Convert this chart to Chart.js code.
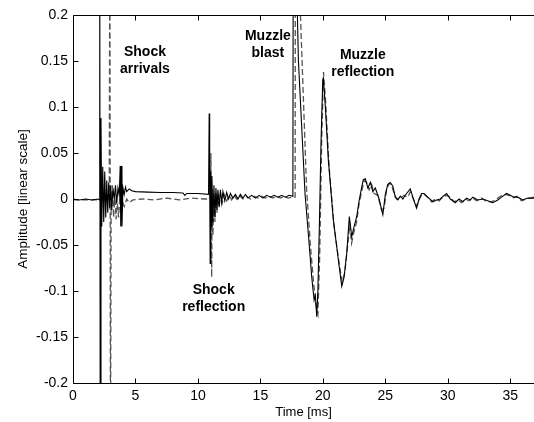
<!DOCTYPE html>
<html>
<head>
<meta charset="utf-8">
<script src="https://cdn.jsdelivr.net/npm/chart.js@4.4.0/dist/chart.umd.min.js"></script>
<style>
  body { margin: 0; background: #fff; }
  canvas { display: block; }
</style>
</head>
<body>
<canvas id="myChart" width="534" height="422"></canvas>
<script>
// mikrofon 1 (linia ciagla)
var solidTime = [0, 0.5, 1.0, 1.5, 2.0, 2.12, 2.14, 2.18, 2.24, 2.3, 2.38, 2.46, 2.54, 2.62, 2.7, 2.78, 2.86, 2.94, 3.02, 3.1, 3.2, 3.3, 3.4, 3.5, 3.6, 3.7, 3.78, 3.82, 3.88, 3.92, 4.0, 4.1, 4.2, 4.3, 4.5, 4.7, 5.0, 6.0, 7.0, 8.0, 8.8, 8.95, 9.1, 10.0, 10.85,
    10.9, 10.94, 10.98, 11.02, 11.06, 11.12, 11.2, 11.28, 11.36, 11.44, 11.52, 11.6, 11.7, 11.8, 11.9, 12.0, 12.15, 12.3, 12.45, 12.6, 12.8, 13.0, 13.2, 13.4, 13.6, 13.8, 14.0, 14.3, 14.6, 14.9, 15.2, 15.5, 15.8, 16.1, 16.4, 16.7, 17.0, 17.3, 17.6,
    17.63, 17.8, 18.04, 18.3, 18.57, 18.85, 19.11, 19.3, 19.4, 19.51, 19.6, 19.72, 19.85, 19.99, 20.04, 20.2, 20.44, 20.84, 21.24, 21.51, 21.7, 21.91, 22.12, 22.31, 22.5, 22.71, 22.9, 23.11, 23.24,
    23.4, 23.6, 23.8, 24.0, 24.2, 24.5, 24.8, 25.0, 25.2, 25.4, 25.6, 25.8, 26.0, 26.2, 26.4, 26.7, 27.0, 27.2, 27.5, 27.7, 27.9, 28.1, 28.4, 28.8, 29.1, 29.4, 29.7, 29.9, 30.2, 30.6, 30.9, 31.2, 31.5, 31.8, 32.0, 32.4, 32.8, 33.2, 33.6, 34.0, 34.3, 34.7, 35.0, 35.3, 35.6, 36.0, 36.4, 36.9];
var solidAmp = [0, -0.001, 0, -0.001, 0, -0.001, 0.3, -0.3, 0.088, -0.03, 0.035, -0.025, 0.03, -0.02, 0.02, -0.015, 0.018, -0.01, 0.015, -0.012, 0.012, 0.0, 0.015, -0.005, 0.012, 0.004, 0.036, -0.03, 0.036, -0.03, 0.012, 0.005, 0.013, 0.008, 0.011, 0.009, 0.008, 0.0075, 0.007, 0.007, 0.0065, 0.004, 0.006, 0.006, 0.005,
    0.093, 0.02, -0.07, 0.03, -0.03, 0.025, -0.025, 0.015, -0.02, 0.012, -0.012, 0.01, -0.008, 0.01, -0.004, 0.008, -0.002, 0.007, 0.0, 0.006, 0.001, 0.005, 0.0, 0.005, 0.001, 0.005, 0.001, 0.004, 0.001, 0.004, 0.001, 0.004, 0.002, 0.004, 0.002, 0.004, 0.002, 0.004, 0.003,
    0.3, 0.3, 0.151, 0.08, 0.006, -0.04, -0.085, -0.11, -0.105, -0.128, -0.1, -0.03, 0.06, 0.129, 0.131, 0.1, 0.042, -0.023, -0.066, -0.095, -0.085, -0.059, -0.019, -0.041, -0.03, -0.019, -0.002, 0.013, 0.021,
    0.022, 0.012, 0.018, 0.008, 0.012, 0.0, -0.017, 0.005, 0.016, 0.018, 0.014, 0.002, -0.001, 0.003, 0.0, 0.006, 0.011, 0.002, -0.01, 0.0, 0.006, 0.006, 0.002, -0.003, -0.001, 0.0, 0.004, 0.006, 0.0, -0.004, 0.0, -0.003, 0.001, -0.001, 0.002, -0.001, 0.0, -0.002, -0.004, -0.001, 0.002, 0.006, 0.004, 0.002, 0.002, -0.001, 0.001, 0.001];

// mikrofon 2 (linia przerywana)
var dashTime = [0, 1.0, 2.0, 2.9, 2.95, 3.0, 3.05, 3.15, 3.25, 3.35, 3.45, 3.55, 3.65, 3.75, 3.85, 3.95, 4.1, 4.3, 4.5, 4.8, 5.5, 6.5, 7.5, 8.5, 9.5, 10.5, 11.0,
    11.04, 11.1, 11.14, 11.2, 11.28, 11.36, 11.44, 11.52, 11.6, 11.7, 11.8, 11.95, 12.1, 12.3, 12.5, 12.7, 12.9, 13.1, 13.3, 13.6, 13.9, 14.2, 14.5, 14.8, 15.1, 15.4, 15.7, 16.0, 16.3, 16.6, 16.9, 17.2, 17.5, 17.78,
    17.8, 17.95, 18.3, 18.7, 19.0, 19.25, 19.45, 19.6, 19.75, 19.9, 20.05, 20.2, 20.5, 20.9, 21.3, 21.55, 21.75, 21.95, 22.15, 22.3, 22.5, 22.7, 22.9, 23.1, 23.3,
    23.5, 23.7, 23.9, 24.1, 24.4, 24.7, 24.9, 25.1, 25.3, 25.5, 25.7, 25.9, 26.2, 26.5, 26.8, 27.0, 27.3, 27.5, 27.8, 28.0, 28.3, 28.7, 29.0, 29.3, 29.6, 29.9, 30.2, 30.5, 30.8, 31.1, 31.4, 31.7, 32.0, 32.3, 32.7, 33.1, 33.5, 33.9, 34.2, 34.6, 34.9, 35.2, 35.5, 35.9, 36.3, 36.9];
var dashAmp = [-0.001, -0.001, -0.001, -0.001, 0.3, -0.3, -0.01, 0.015, -0.02, 0.005, -0.022, -0.005, -0.02, 0.002, -0.015, -0.002, -0.008, 0.0, -0.004, -0.001, 0.0, -0.001, 0.001, -0.001, 0.001, 0.0, 0.0,
    0.05, -0.085, 0.01, -0.04, 0.005, -0.025, 0.008, -0.015, 0.005, -0.01, 0.006, -0.004, 0.005, -0.002, 0.004, -0.001, 0.004, 0.0, 0.004, 0.0, 0.003, 0.0, 0.003, 0.001, 0.003, 0.001, 0.003, 0.001, 0.003, 0.001, 0.003, 0.001, 0.002, 0.002,
    0.3, 0.3, 0.164, 0.01, -0.05, -0.09, -0.115, -0.125, -0.06, 0.06, 0.138, 0.11, 0.035, -0.03, -0.07, -0.09, -0.08, -0.055, -0.028, -0.048, -0.035, -0.025, -0.005, 0.008, 0.02,
    0.018, 0.01, 0.016, 0.006, 0.004, -0.012, -0.01, 0.01, 0.017, 0.015, 0.006, 0.0, 0.001, 0.004, 0.002, 0.008, -0.002, -0.008, 0.002, 0.006, 0.003, -0.003, 0.0, -0.002, 0.002, 0.004, 0.002, -0.003, -0.001, -0.004, 0.0, -0.002, 0.001, -0.002, 0.001, -0.003, -0.003, 0.0, 0.003, 0.005, 0.004, 0.001, 0.003, -0.002, 0.0, 0.002];

var xTicks = [0, 5, 10, 15, 20, 25, 30, 35];
var yTicks = [-0.2, -0.15, -0.1, -0.05, 0, 0.05, 0.1, 0.15, 0.2];
var yTickLabels = ['-0.2', '-0.15', '-0.1', '-0.05', '0', '0.05', '0.1', '0.15', '0.2'];

// opisy na wykresie (wspolrzedne w jednostkach osi)
var notes = [
    { lines: ['Shock', 'arrivals'], t: 5.76, a: 0.160 },
    { lines: ['Muzzle', 'blast'], t: 15.6, a: 0.177 },
    { lines: ['Muzzle', 'reflection'], t: 23.2, a: 0.1565 },
    { lines: ['Shock', 'reflection'], t: 11.26, a: -0.099 }
];

Chart.defaults.font.family = "'Liberation Sans', Arial, sans-serif";
Chart.defaults.color = '#000';

function toPoints(ts, vs) {
    return ts.map(function (t, i) { return { x: t, y: vs[i] }; });
}

var frame = {
    id: 'frame',
    afterDatasetsDraw: function (chart) {
        var ctx = chart.ctx, a = chart.chartArea;
        var xs = chart.scales.x, ys = chart.scales.y;
        var l = Math.round(a.left) + 0.5, t = Math.round(a.top) + 0.5, b = Math.round(a.bottom) + 0.5, r = a.right;
        ctx.save();
        ctx.strokeStyle = '#000';
        ctx.lineWidth = 1;
        ctx.beginPath();
        ctx.moveTo(r, t); ctx.lineTo(l, t); ctx.lineTo(l, b); ctx.lineTo(r, b);
        xTicks.forEach(function (v) {
            var px = Math.round(xs.getPixelForValue(v)) + 0.5;
            ctx.moveTo(px, b); ctx.lineTo(px, b - 5);
            ctx.moveTo(px, t); ctx.lineTo(px, t + 5);
        });
        yTicks.forEach(function (v) {
            var py = Math.round(ys.getPixelForValue(v)) + 0.5;
            ctx.moveTo(l, py); ctx.lineTo(l + 5, py);
        });
        ctx.stroke();

        ctx.fillStyle = '#000';
        ctx.font = "bold 14px 'Liberation Sans', Arial, sans-serif";
        ctx.textAlign = 'center';
        ctx.textBaseline = 'middle';
        notes.forEach(function (n) {
            var px = xs.getPixelForValue(n.t), py = ys.getPixelForValue(n.a);
            n.lines.forEach(function (s, i) { ctx.fillText(s, px, py + i * 17); });
        });
        ctx.restore();
    }
};

var chart = new Chart(document.getElementById('myChart'), {
    type: 'scatter',
    data: {
        datasets: [{
            label: 'mic 1',
            data: toPoints(solidTime, solidAmp),
            showLine: true,
            borderColor: '#000',
            borderWidth: 1.1,
            pointRadius: 0,
            tension: 0
        }, {
            label: 'mic 2',
            data: toPoints(dashTime, dashAmp),
            showLine: true,
            borderColor: '#555',
            borderWidth: 1.3,
            borderDash: [6, 3],
            pointRadius: 0,
            tension: 0
        }]
    },
    options: {
        responsive: false,
        animation: false,
        events: [],
        layout: { padding: { top: 15, right: 0, left: 0, bottom: 0 } },
        plugins: { legend: { display: false }, tooltip: { enabled: false } },
        scales: {
            x: {
                type: 'linear',
                min: 0,
                max: 36.9,
                afterBuildTicks: function (s) { s.ticks = xTicks.map(function (v) { return { value: v }; }); },
                afterFit: function (s) { s.height = 39; },
                grid: { display: false, drawTicks: false },
                border: { display: false },
                ticks: { font: { size: 14 }, padding: 5, maxRotation: 0, autoSkip: false },
                title: { display: true, text: 'Time [ms]', font: { size: 13 }, padding: { top: 0, bottom: 2 } }
            },
            y: {
                min: -0.2,
                max: 0.2,
                afterBuildTicks: function (s) { s.ticks = yTicks.map(function (v) { return { value: v }; }); },
                afterFit: function (s) { s.width = 73; },
                grid: { display: false, drawTicks: false },
                border: { display: false },
                ticks: {
                    font: { size: 14 },
                    padding: 5,
                    autoSkip: false,
                    callback: function (value, index) { return yTickLabels[index]; }
                },
                title: { display: true, text: 'Amplitude [linear scale]', font: { size: 13.5 }, padding: { top: 15, bottom: 0 } }
            }
        }
    },
    plugins: [frame]
});
</script>
</body>
</html>
